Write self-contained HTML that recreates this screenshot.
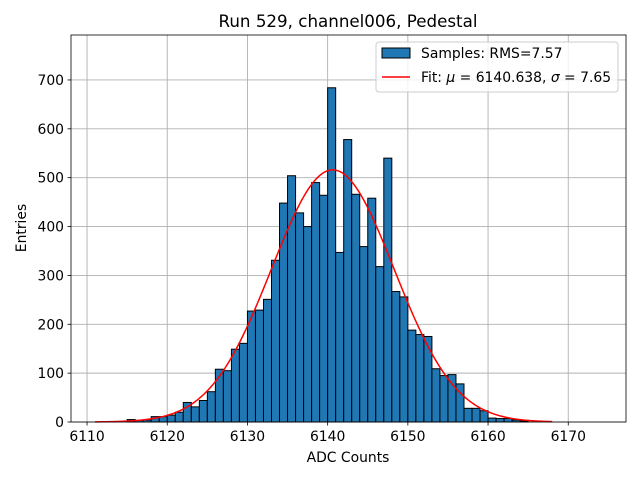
<!DOCTYPE html>
<html><head><meta charset="utf-8"><style>
body{margin:0;background:#fff;font-family:"Liberation Sans","DejaVu Sans",sans-serif}
svg text{font-family:"DejaVu Sans","Liberation Sans",sans-serif}
</style></head><body>
<svg id="c" width="640" height="480" xmlns="http://www.w3.org/2000/svg"></svg>
<script>
const binStarts=[6115,6116,6117,6118,6119,6120,6121,6122,6123,6124,6125,6126,6127,6128,6129,6130,6131,6132,6133,6134,6135,6136,6137,6138,6139,6140,6141,6142,6143,6144,6145,6146,6147,6148,6149,6150,6151,6152,6153,6154,6155,6156,6157,6158,6159,6160,6161,6162,6163,6164];
const counts=[5,3,4,11,11,14,20,40,31,44,62,108,105,149,161,227,229,251,331,448,504,428,400,490,464,684,347,578,466,359,458,318,540,267,256,188,179,175,109,95,97,78,28,28,23,8,7,7,4,2];
const xTicks=[6110,6120,6130,6140,6150,6160,6170];
const yTicks=[0,100,200,300,400,500,600,700];
const fitMu=6140.638, fitSigma=7.65, fitAmp=516, fitRange=[6111,6168];
const L=71,R=626,T=35,B=422,xmin=6108,xmax=6177.2,ymin=0,ymax=792;
const X=v=>L+(v-xmin)/(xmax-xmin)*(R-L);
const Y=v=>B-(v-ymin)/(ymax-ymin)*(B-T);
const svg=document.getElementById('c');
const NS='http://www.w3.org/2000/svg';
function mk(t,a,p){const e=document.createElementNS(NS,t);for(const k in a)e.setAttribute(k,a[k]);(p||svg).appendChild(e);return e;}
const title=mk('text',{x:348,y:27,'text-anchor':'middle','font-size':16.7});title.textContent='Run 529, channel006, Pedestal';


xTicks.forEach(t=>{const g=mk('line',{x1:X(t),x2:X(t),y1:T,y2:B,stroke:'#b0b0b0','stroke-width':0.9});

});
yTicks.forEach(t=>{const g=mk('line',{x1:L,x2:R,y1:Y(t),y2:Y(t),stroke:'#b0b0b0','stroke-width':0.9});

});
binStarts.forEach((b,i)=>{const r=mk('rect',{x:X(b),y:Y(counts[i]),width:X(b+1)-X(b),height:Y(0)-Y(counts[i]),fill:'#1f77b4',stroke:'#000','stroke-width':1});

});
let d='';for(let v=fitRange[0];v<=fitRange[1];v+=0.25){const y=fitAmp*Math.exp(-0.5*((v-fitMu)/fitSigma)**2);d+=(d?'L':'M')+X(v).toFixed(2)+','+Y(y).toFixed(2);}
const fl=mk('path',{d:d,fill:'none',stroke:'#ff0000','stroke-width':1.5});


const fr=mk('rect',{x:L,y:T,width:R-L,height:B-T,fill:'none',stroke:'#000','stroke-width':0.8});


xTicks.forEach(t=>{mk('line',{x1:X(t),x2:X(t),y1:B,y2:B+3.5,stroke:'#000','stroke-width':0.8});
const tx=mk('text',{x:X(t),y:B+19,'text-anchor':'middle','font-size':13.9});tx.textContent=t;

});
yTicks.forEach(t=>{mk('line',{x1:L-3.5,x2:L,y1:Y(t),y2:Y(t),stroke:'#000','stroke-width':0.8});
const tx=mk('text',{x:L-7,y:Y(t)+5,'text-anchor':'end','font-size':13.9});tx.textContent=t;

});
const xl=mk('text',{x:348,y:462,'text-anchor':'middle','font-size':13.9});xl.textContent='ADC Counts';


const yl=mk('text',{x:26,y:228,'text-anchor':'middle','font-size':13.9,transform:'rotate(-90 26 228)'});yl.textContent='Entries';


const lg=mk('g',{});


mk('rect',{x:376,y:42,width:242,height:50,rx:3,fill:'#fff','fill-opacity':0.8,stroke:'#ccc'},lg);
mk('rect',{x:382,y:48,width:28,height:10,fill:'#1f77b4',stroke:'#000','stroke-width':1},lg);
const t1=mk('text',{x:421,y:58,'font-size':13.9},lg);t1.textContent='Samples: RMS=7.57';


mk('line',{x1:382,x2:410,y1:77,y2:77,stroke:'#ff0000','stroke-width':1.5},lg);
const t2=mk('text',{x:421,y:82,'font-size':13.9},lg);
t2.innerHTML='Fit: <tspan font-style="italic">μ</tspan> = 6140.638, <tspan font-style="italic">σ</tspan> = 7.65';


</script>
</body></html>
